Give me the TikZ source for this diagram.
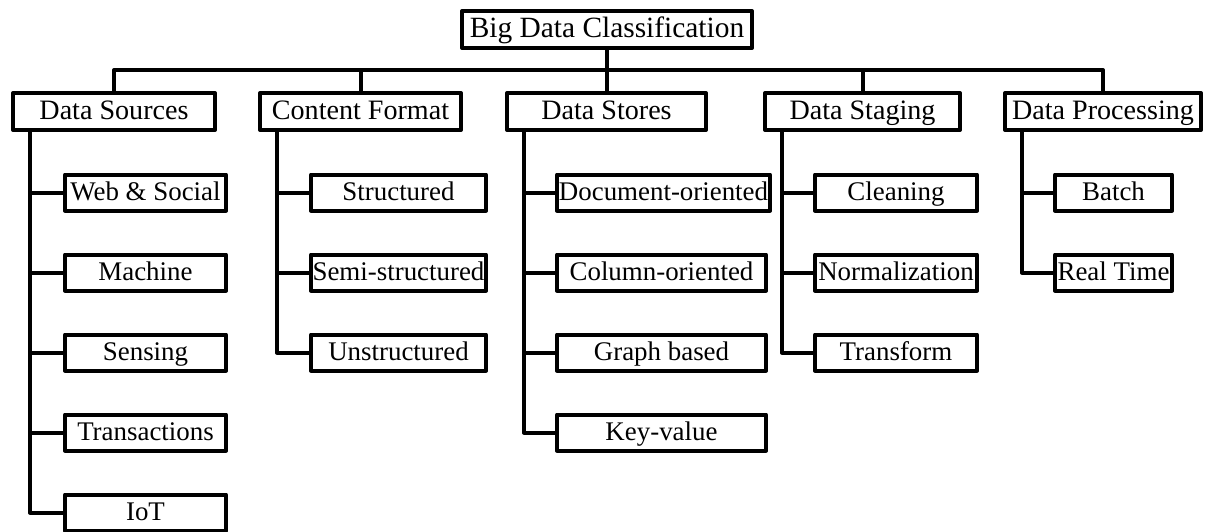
\documentclass[tikz,border=0pt]{standalone}
\usepackage{fontspec}
\setmainfont{Liberation Serif}
\begin{document}
\begin{tikzpicture}[x=1pt,y=-1pt,
  box/.style={draw=black, line width=4pt, fill=white, inner sep=0pt,
    line join=round, align=center, minimum height=37pt},
  rootbox/.style={box, font=\fontsize{29.4}{31}\selectfont,
    text height=21.2pt, text depth=4.7pt},
  catbox/.style={box, font=\fontsize{28.1}{30}\selectfont,
    text height=20.2pt, text depth=4.5pt},
  leafbox/.style={box, minimum height=36pt, font=\fontsize{26.9}{28}\selectfont,
    text height=19.4pt, text depth=4.3pt},
  link/.style={draw=black, line width=4pt, line join=round}]
\useasboundingbox (0,0) rectangle (1207,532);

% root
\node[rootbox, minimum width=290pt] (root) at (607,29.5) {Big Data Classification};

% categories
\node[catbox, minimum width=202pt] (src) at (114,111.5) {Data Sources};
\node[catbox, minimum width=201pt] (fmt) at (360.5,111.5) {Content Format};
\node[catbox, minimum width=199pt] (sto) at (606.5,111.5) {Data Stores};
\node[catbox, minimum width=195pt] (stg) at (862.5,111.5) {Data Staging};
\node[catbox, minimum width=196pt] (prc) at (1103,111.5) {Data Processing};

% bus from the root to the categories
\coordinate (busL) at (114,70);
\coordinate (busR) at (1103,70);
\draw[link] (root.south) -- (root.south |- busL);
\draw[link] (src.north) -- (busL) -- (busR) -- (prc.north);
\draw[link] (fmt.north) -- (fmt.north |- busL);
\draw[link] (sto.north) -- (sto.north |- busL);
\draw[link] (stg.north) -- (stg.north |- busL);

% Data Sources
\node[leafbox, minimum width=161pt] (s1) at (145.5,192.5) {Web \& Social};
\node[leafbox, minimum width=161pt] (s2) at (145.5,272.5) {Machine};
\node[leafbox, minimum width=161pt] (s3) at (145.5,352.5) {Sensing};
\node[leafbox, minimum width=161pt] (s4) at (145.5,432.5) {Transactions};
\node[leafbox, minimum width=161pt] (s5) at (145.5,512.5) {IoT};

% Content Format
\node[leafbox, minimum width=175pt] (f1) at (398.5,192.5) {Structured};
\node[leafbox, minimum width=175pt] (f2) at (398.5,272.5) {Semi-structured};
\node[leafbox, minimum width=175pt] (f3) at (398.5,352.5) {Unstructured};

% Data Stores
\node[leafbox, minimum width=213pt] (d1) at (663.5,192.5) {Document-oriented};
\node[leafbox, minimum width=209pt] (d2) at (661.5,272.5) {Column-oriented};
\node[leafbox, minimum width=209pt] (d3) at (661.5,352.5) {Graph based};
\node[leafbox, minimum width=209pt] (d4) at (661.5,432.5) {Key-value};

% Data Staging
\node[leafbox, minimum width=162pt] (g1) at (896,192.5) {Cleaning};
\node[leafbox, minimum width=162pt] (g2) at (896,272.5) {Normalization};
\node[leafbox, minimum width=162pt] (g3) at (896,352.5) {Transform};

% Data Processing
\node[leafbox, minimum width=117pt] (p1) at (1113.5,192.5) {Batch};
\node[leafbox, minimum width=117pt] (p2) at (1113.5,272.5) {Real Time};

% spines with stubs to each child
\foreach \cat/\kids in {src/{s1,s2,s3,s4,s5}, fmt/{f1,f2,f3}, sto/{d1,d2,d3,d4}, stg/{g1,g2,g3}, prc/{p1,p2}} {
  \foreach \k in \kids {
    \draw[link] ([xshift=19pt]\cat.south west) |- (\k.west);
  }
}
\end{tikzpicture}
\end{document}
